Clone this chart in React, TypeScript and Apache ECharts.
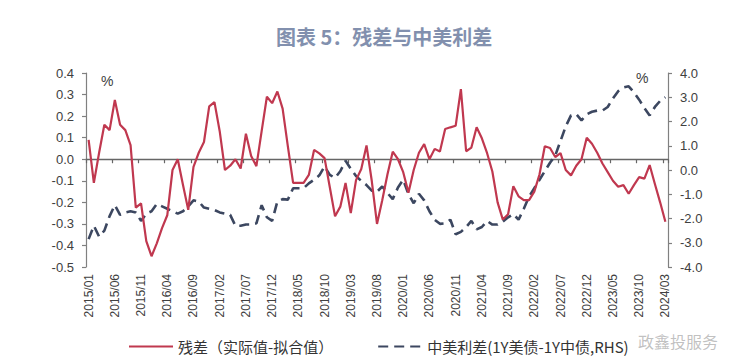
import React, { useEffect, useRef } from "react";
import * as echarts from "echarts";

const startYear = 2015;
const monthCount = 111; // 2015/01 .. 2024/03
const months: string[] = [];
for (let k = 0; k < monthCount; k++) {
  const y = startYear + Math.floor(k / 12);
  const m = (k % 12) + 1;
  months.push(`${y}/${m < 10 ? "0" + m : m}`);
}

const leftTicks = { min: -0.5, max: 0.4, interval: 0.1 };
const rightTicks = { min: -4, max: 4, interval: 1 };

const residualName = "残差（实际值-拟合值）";
const spreadName = "中美利差(1Y美债-1Y中债,RHS)";

const residual: number[] = [
  0.09, -0.11, 0.03, 0.16, 0.135, 0.275, 0.16, 0.135, 0.065, -0.225,
  -0.205, -0.38, -0.45, -0.39, -0.32, -0.26, -0.05, 0.0, -0.12, -0.235,
  -0.035, 0.03, 0.08, 0.245, 0.265, 0.13, -0.05, -0.03, 0.0, -0.043,
  0.118, 0.015, -0.032, 0.13, 0.29, 0.26, 0.314, 0.235, 0.06, -0.11,
  -0.11, -0.11, -0.073, 0.043, 0.027, 0.005, -0.13, -0.265, -0.22, -0.11,
  -0.25, -0.097, -0.045, 0.064, -0.1, -0.3, -0.19, -0.07, 0.035, 0.0,
  -0.06, -0.155, -0.05, 0.03, 0.07, 0.0, 0.048, 0.036, 0.14, 0.148,
  0.155, 0.325, 0.037, 0.054, 0.148, 0.097, 0.028, -0.057, -0.2, -0.28,
  -0.255, -0.125, -0.172, -0.19, -0.19, -0.15, -0.07, 0.06, 0.052, 0.01,
  0.028, -0.05, -0.075, -0.03, 0.0, 0.1, 0.072, 0.03, -0.02, -0.06,
  -0.1, -0.128, -0.12, -0.16, -0.12, -0.083, -0.09, -0.027, -0.115, -0.2,
  -0.29,
];

const spread: number[] = [
  -2.85, -2.3, -2.75, -2.5, -1.9, -1.45, -1.85, -1.75, -1.7, -1.75,
  -2.1, -1.8, -1.7, -1.4, -1.5, -1.6, -1.7, -1.8, -1.7, -1.5,
  -1.25, -1.3, -1.55, -1.6, -1.65, -1.75, -1.8, -1.85, -2.3, -2.3,
  -2.25, -2.25, -2.2, -1.45, -1.95, -2.1, -1.3, -1.2, -1.22, -0.75,
  -0.75, -0.75, -0.55, -0.4, -0.22, 0.15, -0.2, -0.33, -0.05, 0.38,
  0.05, -0.25, -0.45, -0.62, -0.85, -0.9, -0.68, -0.95, -1.2, -0.72,
  -0.4, -1.0, -1.37, -0.98, -1.25, -1.7, -2.05, -2.22, -2.2, -2.05,
  -2.65, -2.55, -2.35, -2.1, -2.45, -2.35, -2.1, -2.25, -2.25, -2.13,
  -1.95, -1.82, -2.05, -1.6, -1.1, -0.75, -0.4, -0.05, 0.3, 0.6,
  1.2, 1.8, 2.25, 2.3, 2.05, 2.3, 2.4, 2.45, 2.45, 2.6,
  2.95, 3.25, 3.4, 3.45, 3.2, 2.9, 2.55, 2.25, 2.6, 2.85,
  3.0,
];

const axisColor = "#808080";
const labelColor = "#404040";
const latin = "'Liberation Sans', Arial, sans-serif";
const cjk = "'Noto Sans CJK SC', sans-serif";

export default function App() {
  const ref = useRef<HTMLDivElement>(null);
  useEffect(() => {
    if (!ref.current) return;
    const chart = echarts.init(ref.current, undefined, { renderer: "svg" });
    const yAxisCommon = {
      type: "value" as const,
      splitLine: { show: false },
      axisLine: { show: true, lineStyle: { color: axisColor, width: 1.2 } },
      axisTick: { show: true, length: 4, lineStyle: { color: axisColor, width: 1.2 } },
      axisLabel: {
        color: labelColor,
        fontSize: 13,
        fontFamily: latin,
        margin: 12,
        formatter: (v: number) => v.toFixed(1),
      },
    };
    chart.setOption({
      animation: false,
      backgroundColor: "#ffffff",
      title: {
        text: "图表 5：残差与中美利差",
        left: 271,
        top: 21,
        textStyle: {
          fontSize: 20,
          fontWeight: "bold",
          color: "#8290ae",
          fontFamily: cjk,
        },
      },
      grid: { left: 86, right: 72, top: 73, bottom: 95, containLabel: false },
      legend: {
        data: [residualName, spreadName],
        left: 123,
        top: 334,
        itemWidth: 44,
        itemHeight: 14,
        itemGap: 44,
        itemStyle: { opacity: 0 },
        textStyle: { fontSize: 15, color: "#333333", fontFamily: cjk },
      },
      xAxis: [
        {
          type: "category",
          data: months,
          position: "bottom",
          boundaryGap: true,
          axisLine: { show: false, onZero: false },
          axisTick: { show: false },
          axisLabel: {
            interval: 4,
            rotate: 90,
            margin: 7,
            fontSize: 12,
            color: labelColor,
            fontFamily: latin,
          },
        },
        {
          type: "category",
          data: months,
          position: "top",
          boundaryGap: true,
          axisLine: {
            show: true,
            onZero: true,
            onZeroAxisIndex: 0,
            lineStyle: { color: "#666666", width: 1.3 },
          },
          axisTick: {
            show: true,
            inside: true,
            interval: 4,
            length: 4,
            lineStyle: { color: "#666666", width: 1.2 },
          },
          axisLabel: { show: false },
        },
      ],
      yAxis: [
        { ...yAxisCommon, position: "left", ...leftTicks },
        { ...yAxisCommon, position: "right", ...rightTicks },
      ],
      series: [
        {
          name: residualName,
          type: "line",
          xAxisIndex: 0,
          yAxisIndex: 0,
          data: residual,
          symbol: "none",
          z: 3,
          lineStyle: { color: "#c0384f", width: 2.2 },
          itemStyle: { color: "#c0384f" },
        },
        {
          name: spreadName,
          type: "line",
          xAxisIndex: 0,
          yAxisIndex: 1,
          data: spread,
          symbol: "none",
          z: 2,
          lineStyle: { color: "#3c4760", width: 2.6, type: [10, 6] },
          itemStyle: { color: "#3c4760" },
        },
      ],
      graphic: [
        {
          type: "text",
          left: 101,
          top: 74,
          style: { text: "%", fontSize: 14, fill: labelColor, fontFamily: latin },
        },
        {
          type: "text",
          left: 636,
          top: 71,
          style: { text: "%", fontSize: 14, fill: labelColor, fontFamily: latin },
        },
        {
          type: "text",
          left: 638,
          top: 333,
          z: 100,
          style: {
            text: "政鑫投服务",
            fontSize: 16,
            fill: "rgba(140,140,140,0.55)",
            fontFamily: cjk,
          },
        },
      ],
    });
    return () => chart.dispose();
  }, []);
  return (
    <div
      ref={ref}
      style={{ position: "fixed", left: 0, top: 0, width: 740, height: 362, background: "#fff" }}
    />
  );
}
